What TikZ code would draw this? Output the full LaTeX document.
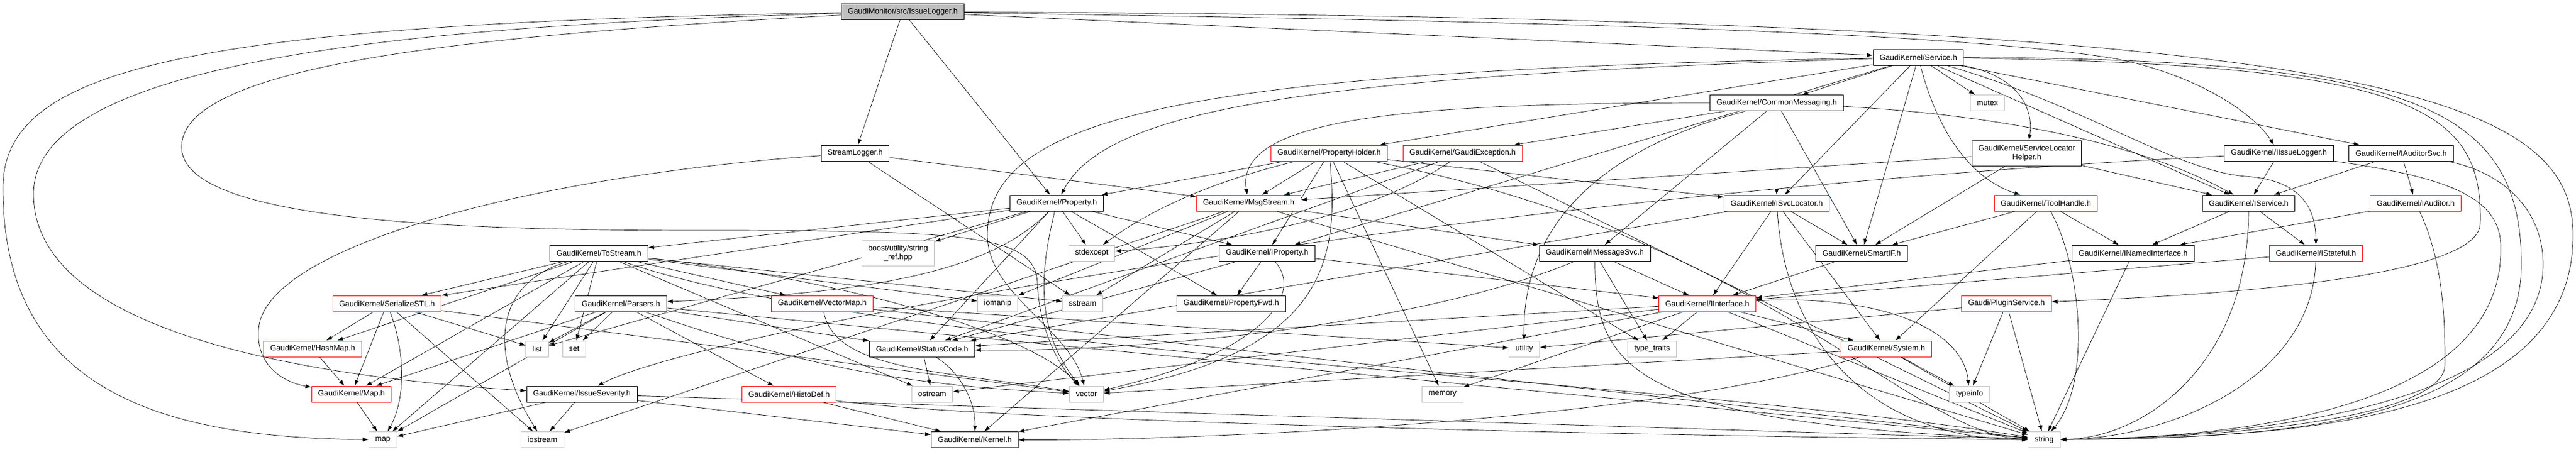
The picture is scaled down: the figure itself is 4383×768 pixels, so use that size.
\documentclass[tikz,border=0pt]{standalone}
\usepackage{fontspec}
\setmainfont{Liberation Sans}
\usetikzlibrary{arrows.meta,backgrounds}
\definecolor{edgeblue}{RGB}{25,25,112}
\definecolor{sysgray}{RGB}{191,191,191}

\begin{document}
\begin{tikzpicture}[x=0.02cm,y=-0.02cm,
    >={Latex[length=0.2cm,width=0.14cm]},
    every node/.style={font=\fontsize{7.5}{8.5}\selectfont,line width=0.55pt,
      inner xsep=0.22cm,inner ysep=0pt,minimum height=0.54cm,fill=white},
    hdr/.style={draw=black},
    trunc/.style={draw=red},
    sysh/.style={draw=sysgray},
    twoline/.style={align=center,minimum height=0.86cm}]
  \useasboundingbox (0,0) rectangle (4383,768);

  \node [hdr,fill=sysgray] (root) at (1536,20) {GaudiMonitor/src/IssueLogger.h};
  \node [hdr] (svc) at (3264,97.5) {GaudiKernel/Service.h};
  \node [hdr] (cmsg) at (3023,175) {GaudiKernel/CommonMessaging.h};
  \node [sysh] (mutex) at (3381.5,175) {mutex};
  \node [hdr] (slog) at (1455,260.5) {StreamLogger.h};
  \node [trunc] (phold) at (2261.5,260.5) {GaudiKernel/PropertyHolder.h};
  \node [trunc] (gexc) at (2488.5,260.5) {GaudiKernel/GaudiException.h};
  \node [hdr,twoline] (slh) at (3448.5,260.5) {GaudiKernel/ServiceLocator\\Helper.h};
  \node [hdr] (iilog) at (3877.5,260.5) {GaudiKernel/IIssueLogger.h};
  \node [hdr] (iaudsvc) at (4085.5,260.5) {GaudiKernel/IAuditorSvc.h};
  \node [hdr] (prop) at (1798,345.5) {GaudiKernel/Property.h};
  \node [trunc] (msg) at (2124.5,345.5) {GaudiKernel/MsgStream.h};
  \node [trunc] (isvcloc) at (3023,345.5) {GaudiKernel/ISvcLocator.h};
  \node [trunc] (tool) at (3481,345.5) {GaudiKernel/ToolHandle.h};
  \node [hdr] (iservice) at (3826,345.5) {GaudiKernel/IService.h};
  \node [trunc] (iaud) at (4110,345.5) {GaudiKernel/IAuditor.h};
  \node [hdr] (tostream) at (1019,430.5) {GaudiKernel/ToStream.h};
  \node [sysh,twoline] (boost) at (1528,430.5) {boost/utility/string\\\_ref.hpp};
  \node [sysh] (stdexc) at (1857.5,430.5) {stdexcept};
  \node [hdr] (iprop) at (2156,430.5) {GaudiKernel/IProperty.h};
  \node [hdr] (imsg) at (2713.5,430.5) {GaudiKernel/IMessageSvc.h};
  \node [hdr] (smart) at (3167.5,430.5) {GaudiKernel/SmartIF.h};
  \node [hdr] (inamed) at (3629.5,430.5) {GaudiKernel/INamedInterface.h};
  \node [trunc] (istate) at (3940.5,430.5) {GaudiKernel/IStateful.h};
  \node [trunc] (sstl) at (658.5,516.5) {GaudiKernel/SerializeSTL.h};
  \node [hdr] (parsers) at (1056.5,516.5) {GaudiKernel/Parsers.h};
  \node [trunc] (vmap) at (1399,516.5) {GaudiKernel/VectorMap.h};
  \node [sysh] (iomanip) at (1697.5,516.5) {iomanip};
  \node [sysh] (sstream) at (1842,516.5) {sstream};
  \node [hdr] (pfwd) at (2095,516.5) {GaudiKernel/PropertyFwd.h};
  \node [trunc] (iiface) at (2905,516.5) {GaudiKernel/IInterface.h};
  \node [trunc] (plugin) at (3414,516.5) {Gaudi/PluginService.h};
  \node [trunc] (hmap) at (532,593.5) {GaudiKernel/HashMap.h};
  \node [sysh] (list) at (914,593.5) {list};
  \node [sysh] (set) at (977,593.5) {set};
  \node [hdr] (status) at (1569,593.5) {GaudiKernel/StatusCode.h};
  \node [sysh] (utility) at (2593.5,593.5) {utility};
  \node [sysh] (ttraits) at (2811,593.5) {type\_traits};
  \node [trunc] (system) at (3209.5,593.5) {GaudiKernel/System.h};
  \node [trunc] (mapH) at (598,670.5) {GaudiKernel/Map.h};
  \node [hdr] (issev) at (990,670.5) {GaudiKernel/IssueSeverity.h};
  \node [trunc] (histo) at (1342.5,670.5) {GaudiKernel/HistoDef.h};
  \node [sysh] (ostream) at (1586,670.5) {ostream};
  \node [sysh] (vector) at (1848.5,670.5) {vector};
  \node [sysh] (memory) at (2454.5,670.5) {memory};
  \node [sysh] (typeinfo) at (3351,670.5) {typeinfo};
  \node [sysh] (map) at (651.5,748) {map};
  \node [sysh] (iostream) at (923,748) {iostream};
  \node [hdr] (kernel) at (1658.5,748) {GaudiKernel/Kernel.h};
  \node [sysh] (string) at (3478,748) {string};

  \begin{scope}[on background layer,color=edgeblue,line width=0.55pt]
    \draw[->] (root) -- (slog);
    \draw[->] (root) -- (prop);
    \draw[->] (root) -- (svc);
    \draw[->] (root) .. controls (2500,35) and (3300,50) .. (3600,100) .. controls (3750,130) and (3840,200) .. (iilog);
    \draw[->] (root) .. controls (600,45) and (57,120) .. (57,330) .. controls (57,560) and (500,640) .. (issev);
    \draw[->] (root) .. controls (300,40) and (5,120) .. (5,320) .. controls (5,650) and (250,745) .. (map);
    \draw[->] (root) .. controls (800,60) and (309,110) .. (309,250) .. controls (309,380) and (800,392) .. (1200,392)
      .. controls (1650,392) and (1760,400) .. (1765,480) .. controls (1768,560) and (1800,620) .. (vector);
    \draw[->] (root) .. controls (4000,30) and (4378,150) .. (4378,400) .. controls (4378,720) and (3900,745) .. (string);

    \draw[->] (svc) -- (cmsg);
    \draw[->] (svc) -- (mutex);
    \draw[->] (svc) .. controls (3440,130) and (3460,190) .. (slh);
    \draw[->] (svc) .. controls (3290,200) and (3340,300) .. (tool);
    \draw[->] (svc) -- (isvcloc);
    \draw[->] (svc) -- (smart);
    \draw[->] (svc) -- (phold);
    \draw[->] (svc) -- (iprop);
    \draw[->] (svc) -- (iservice);
    \draw[->] (svc) -- (iaudsvc);
    \draw[->] (svc) .. controls (3550,180) and (3700,290) .. (3820,300) .. controls (3900,305) and (3940,340) .. (istate);
    \draw[->] (svc) .. controls (2200,130) and (1880,190) .. (prop);
    \draw[->] (svc) .. controls (2000,120) and (1680,200) .. (1680,400) .. controls (1680,500) and (1820,560) .. (vector);
    \draw[->] (svc) .. controls (4100,110) and (4225,180) .. (4220,380) .. controls (4220,480) and (3700,505) .. (plugin);
    \draw[->] (svc) .. controls (4100,100) and (4290,180) .. (4290,450) .. controls (4290,720) and (3900,745) .. (string);

    \draw[->] (cmsg) .. controls (2400,175) and (2100,200) .. (msg);
    \draw[->] (cmsg) -- (gexc);
    \draw[->] (cmsg) -- (imsg);
    \draw[->] (cmsg) -- (isvcloc);
    \draw[->] (cmsg) -- (smart);
    \draw[->] (cmsg) .. controls (3300,190) and (3600,220) .. (iservice);
    \draw[->] (cmsg) .. controls (2700,260) and (2590,400) .. (utility);

    \draw[->] (slog) -- (msg);
    \draw[->] (slog) -- (sstream);
    \draw[->] (slog) .. controls (900,300) and (450,420) .. (440,560) .. controls (435,620) and (480,650) .. (mapH);

    \draw[->] (phold) -- (prop);
    \draw[->] (phold) -- (msg);
    \draw[->] (phold) -- (iprop);
    \draw[->] (phold) .. controls (2100,300) and (1980,340) .. (stdexc);
    \draw[->] (phold) .. controls (2280,450) and (2250,600) .. (vector);
    \draw[->] (phold) .. controls (3000,400) and (3250,740) .. (string);
    \draw[->] (phold) -- (memory);
    \draw[->] (phold) -- (isvcloc);
    \draw[->] (phold) -- (ttraits);

    \draw[->] (gexc) -- (msg);
    \draw[->] (gexc) .. controls (2300,390) and (2000,420) .. (stdexc);
    \draw[->] (gexc) -- (status);
    \draw[->] (gexc) -- (string);

    \draw[->] (slh) -- (smart);
    \draw[->] (slh) -- (iservice);
    \draw[->] (slh) -- (msg);

    \draw[->] (prop) -- (tostream);
    \draw[->] (prop) -- (boost);
    \draw[->] (prop) -- (stdexc);
    \draw[->] (prop) -- (iprop);
    \draw[->] (prop) .. controls (1680,470) and (1450,500) .. (parsers);
    \draw[->] (prop) -- (pfwd);
    \draw[->] (prop) -- (sstl);
    \draw[->] (prop) -- (list);
    \draw[->] (prop) -- (status);
    \draw[->] (prop) .. controls (1770,460) and (1760,560) .. (vector);

    \draw[->] (msg) -- (imsg);
    \draw[->] (msg) -- (iomanip);
    \draw[->] (msg) -- (sstream);
    \draw[->] (msg) -- (iostream);
    \draw[->] (msg) -- (string);
    \draw[->] (msg) -- (kernel);

    \draw[->] (isvcloc) -- (iiface);
    \draw[->] (isvcloc) -- (smart);
    \draw[->] (isvcloc) -- (system);
    \draw[->] (isvcloc) -- (status);
    \draw[->] (isvcloc) .. controls (3040,600) and (3200,748) .. (string);

    \draw[->] (tool) -- (smart);
    \draw[->] (tool) -- (system);
    \draw[->] (tool) -- (inamed);
    \draw[->] (tool) .. controls (3540,450) and (3560,650) .. (string);

    \draw[->] (iservice) -- (inamed);
    \draw[->] (iservice) -- (istate);
    \draw[->] (iservice) .. controls (3825,620) and (3650,745) .. (string);

    \draw[->] (iilog) -- (iservice);
    \draw[->] (iilog) .. controls (2500,330) and (1200,560) .. (issev);
    \draw[->] (iilog) .. controls (4150,300) and (4255,330) .. (4255,420) .. controls (4260,700) and (3800,745) .. (string);

    \draw[->] (iaudsvc) -- (iservice);
    \draw[->] (iaudsvc) -- (iaud);
    \draw[->] (iaudsvc) .. controls (4250,290) and (4327,350) .. (4327,450) .. controls (4327,700) and (3800,745) .. (string);

    \draw[->] (iaud) -- (inamed);
    \draw[->] (iaud) .. controls (4160,450) and (4160,560) .. (4160,620) .. controls (4160,710) and (3800,745) .. (string);

    \draw[->] (tostream) -- (sstl);
    \draw[->] (tostream) -- (hmap);
    \draw[->] (tostream) -- (mapH);
    \draw[->] (tostream) -- (vmap);
    \draw[->] (tostream) -- (list);
    \draw[->] (tostream) -- (set);
    \draw[->] (tostream) -- (iomanip);
    \draw[->] (tostream) -- (sstream);
    \draw[->] (tostream) .. controls (840,480) and (830,600) .. (iostream);
    \draw[->] (tostream) .. controls (1500,600) and (2800,640) .. (string);
    \draw[->] (tostream) .. controls (1400,470) and (1750,560) .. (vector);
    \draw[->] (tostream) -- (map);
    \draw[->] (tostream) -- (ostream);

    \draw[->] (iprop) -- (iiface);
    \draw[->] (iprop) -- (pfwd);
    \draw[->] (iprop) -- (status);
    \draw[->] (iprop) .. controls (2220,500) and (2150,600) .. (vector);

    \draw[->] (imsg) -- (iiface);
    \draw[->] (imsg) .. controls (2400,560) and (1900,600) .. (status);
    \draw[->] (imsg) -- (ttraits);
    \draw[->] (imsg) .. controls (2715,620) and (2760,720) .. (string);

    \draw[->] (smart) -- (iiface);
    \draw[->] (inamed) -- (iiface);
    \draw[->] (inamed) -- (string);
    \draw[->] (istate) -- (iiface);
    \draw[->] (istate) .. controls (3935,640) and (3700,745) .. (string);

    \draw[->] (sstl) -- (hmap);
    \draw[->] (sstl) -- (mapH);
    \draw[->] (sstl) -- (list);
    \draw[->] (sstl) .. controls (690,600) and (690,680) .. (map);
    \draw[->] (sstl) -- (vector);
    \draw[->] (sstl) -- (iostream);

    \draw[->] (parsers) -- (list);
    \draw[->] (parsers) -- (set);
    \draw[->] (parsers) -- (histo);
    \draw[->] (parsers) -- (status);
    \draw[->] (parsers) to[bend right=8] (vector);
    \draw[->] (parsers) -- (map);
    \draw[->] (parsers) -- (mapH);
    \draw[->] (parsers) -- (string);

    \draw[->] (vmap) -- (utility);
    \draw[->] (vmap) .. controls (1420,630) and (1600,630) .. (vector);
    \draw[->] (vmap) -- (string);

    \draw[->] (iiface) -- (status);
    \draw[->] (iiface) -- (system);
    \draw[->] (iiface) -- (ttraits);
    \draw[->] (iiface) -- (ostream);
    \draw[->] (iiface) -- (kernel);
    \draw[->] (iiface) .. controls (3200,500) and (3340,560) .. (typeinfo);
    \draw[->] (iiface) -- (string);
    \draw[->] (iiface) -- (memory);

    \draw[->] (plugin) -- (typeinfo);
    \draw[->] (plugin) -- (string);
    \draw[->] (plugin) -- (utility);

    \draw[->] (hmap) -- (mapH);
    \draw[->] (mapH) -- (map);
    \draw[->] (status) -- (ostream);
    \draw[->] (status) .. controls (1630,630) and (1660,680) .. (kernel);
    \draw[->] (system) -- (typeinfo);
    \draw[->] (system) -- (string);
    \draw[->] (system) -- (vector);
    \draw[->] (system) .. controls (2800,720) and (2000,750) .. (kernel);
    \draw[->] (issev) -- (map);
    \draw[->] (issev) -- (iostream);
    \draw[->] (issev) -- (string);
    \draw[->] (issev) -- (kernel);
    \draw[->] (histo) -- (kernel);
    \draw[->] (histo) .. controls (1700,720) and (3000,745) .. (string);
  \end{scope}
\end{tikzpicture}
\end{document}
